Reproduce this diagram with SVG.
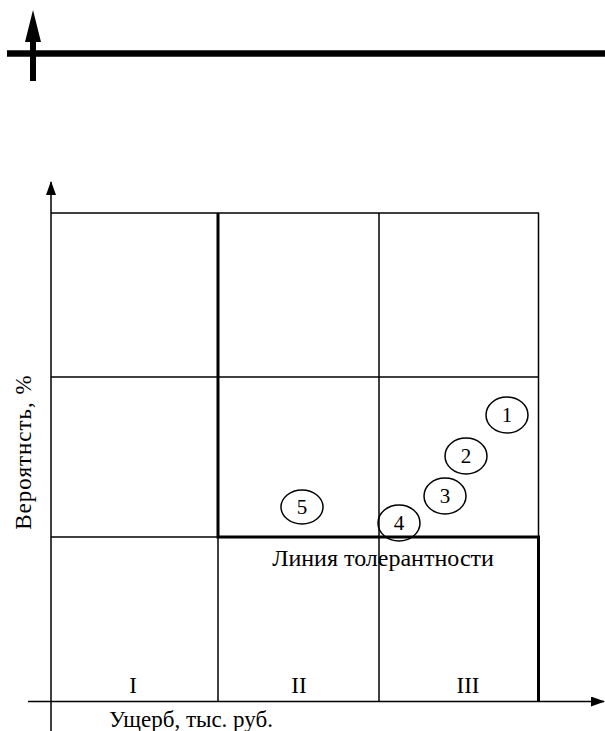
<svg xmlns="http://www.w3.org/2000/svg" width="605" height="731" viewBox="0 0 605 731">
  <style>
    .thin { stroke: #000; stroke-width: 1.5; fill: none; }
    .thick { stroke: #000; stroke-width: 3; fill: none; }
    text { font-family: "Liberation Serif", "Times New Roman", "DejaVu Serif", serif; fill: #000; }
    .lbl { font-size: 23px; }
    .mark ellipse { fill: none; stroke: #000; stroke-width: 1.5; }
    .mark text { font-size: 21px; text-anchor: middle; }
  </style>
  <defs>
    <marker id="arr" markerWidth="14" markerHeight="10" refX="13" refY="5" orient="auto" markerUnits="userSpaceOnUse">
      <path d="M0,0 L14,5 L0,10 Z" fill="#000"/>
    </marker>
  </defs>
  <rect width="605" height="731" fill="#fff"/>

  <!-- header bar with upward arrow -->
  <g id="header">
    <line x1="7" y1="53.5" x2="605" y2="53.5" stroke="#000" stroke-width="6.5"/>
    <line x1="33" y1="81" x2="33" y2="40" stroke="#000" stroke-width="6"/>
    <path d="M33,10 L41,42 L25,42 Z" fill="#000"/>
  </g>

  <!-- axes -->
  <g id="connectors">
    <line class="thin" x1="51" y1="731" x2="51" y2="182" stroke-width="2" marker-end="url(#arr)"/>
    <line class="thin" x1="28" y1="701.5" x2="604" y2="701.5" stroke-width="2" marker-end="url(#arr)"/>
  </g>

  <!-- risk grid -->
  <g id="grid">
    <line class="thin" x1="51" y1="213" x2="539" y2="213"/>
    <line class="thin" x1="51" y1="377" x2="539" y2="377"/>
    <line class="thin" x1="51" y1="537" x2="218" y2="537"/>
    <line class="thin" x1="379" y1="213" x2="379" y2="701"/>
    <line class="thin" x1="538.5" y1="213" x2="538.5" y2="537"/>
    <line class="thin" x1="218" y1="537" x2="218" y2="701"/>
  </g>

  <!-- tolerance line -->
  <g id="tolerance">
    <polyline class="thick" points="218,213 218,537 538.5,537 538.5,701"/>
    <text class="lbl" x="383" y="566" text-anchor="middle" style="font-size:24px">Линия толерантности</text>
  </g>

  <!-- zone labels -->
  <g id="zones">
    <text class="lbl" x="133" y="693" text-anchor="middle">I</text>
    <text class="lbl" x="299" y="693" text-anchor="middle">II</text>
    <text class="lbl" x="468" y="693" text-anchor="middle">III</text>
  </g>

  <!-- axis titles -->
  <g id="axis-labels">
    <text class="lbl" x="191" y="727" text-anchor="middle">Ущерб, тыс. руб.</text>
    <text class="lbl" transform="translate(31,452) rotate(-90)" text-anchor="middle" letter-spacing="1">Вероятнсть, %</text>
  </g>

  <!-- risk markers -->
  <g id="risk-1" class="mark"><ellipse cx="507" cy="415" rx="21" ry="18"/><text x="507" y="422">1</text></g>
  <g id="risk-2" class="mark"><ellipse cx="466" cy="456" rx="21" ry="18"/><text x="466" y="463">2</text></g>
  <g id="risk-3" class="mark"><ellipse cx="445" cy="496" rx="21" ry="18"/><text x="445" y="503">3</text></g>
  <g id="risk-4" class="mark"><ellipse cx="399" cy="523" rx="21" ry="18"/><text x="399" y="530">4</text></g>
  <g id="risk-5" class="mark"><ellipse cx="302" cy="507" rx="21" ry="17"/><text x="302" y="514">5</text></g>
</svg>
